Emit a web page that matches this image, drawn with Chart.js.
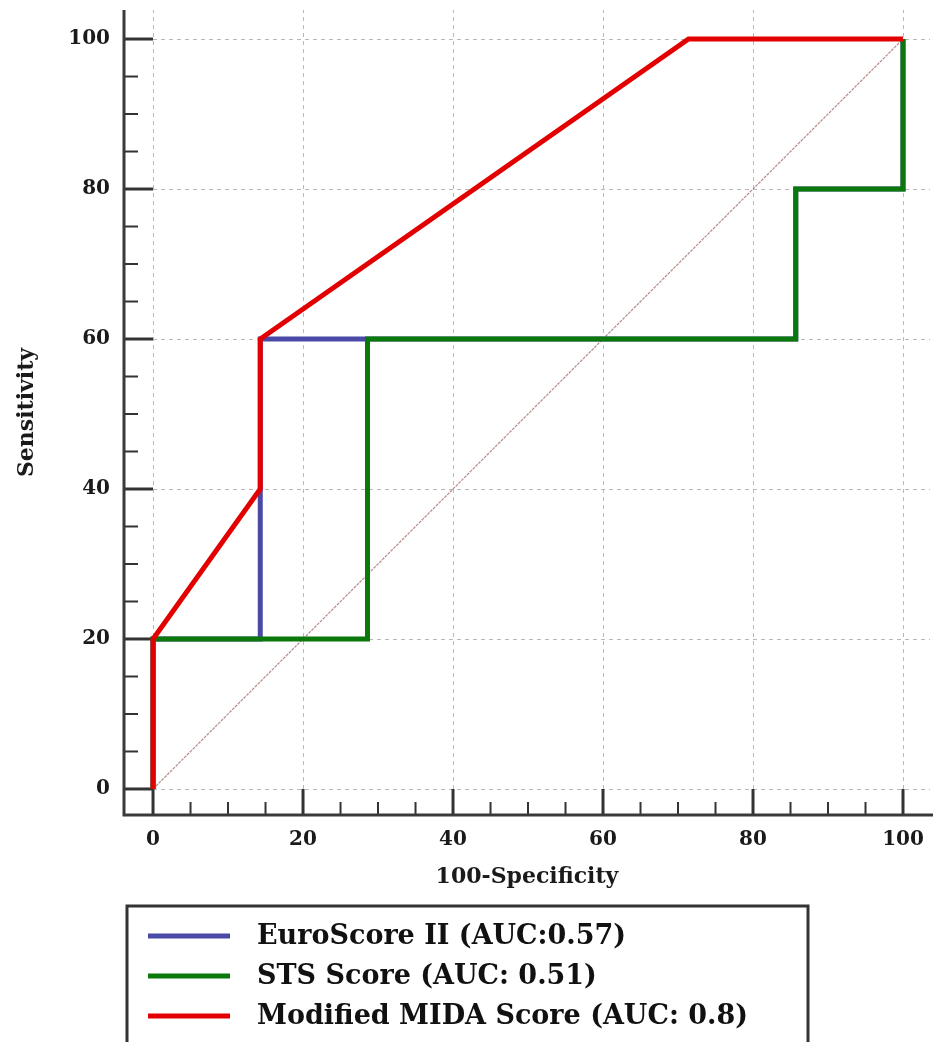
<!DOCTYPE html>
<html>
<head>
<meta charset="utf-8">
<script src="https://cdn.jsdelivr.net/npm/chart.js@4.4.1/dist/chart.umd.min.js"></script>
<style>
  html, body { margin: 0; padding: 0; background: #fff; }
  canvas { display: block; }
</style>
</head>
<body>
<canvas id="roc" width="933" height="1042"></canvas>
<script>
// ---------- DATA ----------
const seriesLabels = ['EuroScore II (AUC:0.57)', 'STS Score (AUC: 0.51)', 'Modified MIDA Score (AUC: 0.8)'];
const seriesColors = ['#4a4aa6', '#0b780b', '#e30000'];

const euroX = [0, 0, 14.3, 14.3, 28.6, 85.7, 85.7, 100, 100];
const euroY = [0, 20, 20, 60, 60, 60, 80, 80, 100];

const stsX = [0, 0, 28.6, 28.6, 85.7, 85.7, 100, 100];
const stsY = [0, 20, 20, 60, 60, 80, 80, 100];

const midaX = [0, 0, 14.3, 14.3, 71.4, 100];
const midaY = [0, 20, 40, 60, 100, 100];

const refX = [0, 100];
const refY = [0, 100];

const majorTicks = [0, 20, 40, 60, 80, 100];
const minorTicks = [5, 10, 15, 25, 30, 35, 45, 50, 55, 65, 70, 75, 85, 90, 95];

const xTitle = '100-Specificity';
const yTitle = 'Sensitivity';

// ---------- HELPERS ----------
function toPoints(xs, ys) {
    return xs.map((v, i) => ({ x: v, y: ys[i] }));
}

const serif = '"DejaVu Serif", serif';

// ---------- AXES / GRID PLUGIN ----------
const rocAxes = {
    id: 'rocAxes',
    beforeDatasetsDraw(chart) {
        const { ctx, chartArea: a, scales: { x, y } } = chart;
        const x0 = x.getPixelForValue(0);
        const y0 = y.getPixelForValue(0);
        ctx.save();

        // dashed grid from 0 outwards
        ctx.strokeStyle = '#b8b8b8';
        ctx.lineWidth = 1;
        ctx.setLineDash([4, 4]);
        majorTicks.forEach(v => {
            const py = Math.round(y.getPixelForValue(v)) + 0.5;
            ctx.beginPath(); ctx.moveTo(x0, py); ctx.lineTo(a.right, py); ctx.stroke();
            const px = Math.round(x.getPixelForValue(v)) + 0.5;
            ctx.beginPath(); ctx.moveTo(px, y0); ctx.lineTo(px, a.top); ctx.stroke();
        });
        ctx.setLineDash([]);

        // tick marks pointing inwards
        ctx.strokeStyle = '#333';
        ctx.lineWidth = 3;
        majorTicks.forEach(v => {
            const py = y.getPixelForValue(v);
            ctx.beginPath(); ctx.moveTo(a.left, py); ctx.lineTo(x0, py); ctx.stroke();
            const px = x.getPixelForValue(v);
            ctx.beginPath(); ctx.moveTo(px, a.bottom); ctx.lineTo(px, y0); ctx.stroke();
        });
        ctx.lineWidth = 2;
        minorTicks.forEach(v => {
            const py = y.getPixelForValue(v);
            ctx.beginPath(); ctx.moveTo(a.left, py); ctx.lineTo(a.left + 14, py); ctx.stroke();
            const px = x.getPixelForValue(v);
            ctx.beginPath(); ctx.moveTo(px, a.bottom); ctx.lineTo(px, a.bottom - 13); ctx.stroke();
        });

        // axis lines
        ctx.strokeStyle = '#3a3a3a';
        ctx.lineWidth = 3;
        ctx.beginPath();
        ctx.moveTo(a.left, a.top);
        ctx.lineTo(a.left, a.bottom);
        ctx.lineTo(a.right + 3, a.bottom);
        ctx.stroke();

        ctx.restore();
    }
};

// ---------- BOXED LEGEND ----------
const boxedLegend = {
    id: 'boxedLegend',
    afterDraw(chart) {
        const { ctx } = chart;
        ctx.save();
        ctx.strokeStyle = '#333';
        ctx.lineWidth = 3;
        ctx.strokeRect(127, 906, 681, 160);

        ctx.font = 'bold 27px ' + serif;
        ctx.textBaseline = 'middle';
        seriesLabels.forEach((label, i) => {
            const rowY = 936 + i * 40;
            ctx.fillStyle = seriesColors[i];
            ctx.fillRect(148, rowY - 2.5, 82, 5);
            ctx.fillStyle = '#111';
            ctx.fillText(label, 257, rowY + 1);
        });
        ctx.restore();
    }
};

// ---------- CHART ----------
const ctx = document.getElementById('roc').getContext('2d');

const rocChart = new Chart(ctx, {
    type: 'scatter',
    data: {
        datasets: [
            {
                label: 'Reference',
                data: toPoints(refX, refY),
                borderColor: '#b88a8a',
                borderWidth: 1.2,
                borderDash: [3, 1],
                order: 4
            },
            {
                label: seriesLabels[0],
                data: toPoints(euroX, euroY),
                borderColor: seriesColors[0],
                borderWidth: 5,
                order: 3
            },
            {
                label: seriesLabels[1],
                data: toPoints(stsX, stsY),
                borderColor: seriesColors[1],
                borderWidth: 5,
                order: 2
            },
            {
                label: seriesLabels[2],
                data: toPoints(midaX, midaY),
                borderColor: seriesColors[2],
                borderWidth: 5,
                order: 1
            }
        ]
    },
    options: {
        responsive: false,
        animation: false,
        datasets: {
            scatter: {
                showLine: true,
                pointRadius: 0,
                pointHoverRadius: 0,
                tension: 0,
                borderJoinStyle: 'miter',
                borderCapStyle: 'butt',
                fill: false
            }
        },
        layout: { padding: { left: 0, top: 10, right: 3, bottom: 147 } },
        plugins: {
            legend: { display: false },
            tooltip: { enabled: false }
        },
        scales: {
            x: {
                type: 'linear',
                min: -3.87,
                max: 103.6,
                afterBuildTicks: scale => { scale.ticks = majorTicks.map(v => ({ value: v })); },
                afterFit: scale => {
                    scale.height = 80;
                    scale.paddingLeft = 0;
                    scale.paddingRight = 0;
                },
                grid: { display: false, drawTicks: false },
                border: { display: false },
                ticks: {
                    padding: 13,
                    color: '#1a1a1a',
                    font: { family: serif, size: 20, weight: 'bold' }
                },
                title: {
                    display: true,
                    text: xTitle,
                    color: '#1a1a1a',
                    padding: { top: 0, bottom: 5 },
                    font: { family: serif, size: 22, weight: 'bold' }
                }
            },
            y: {
                type: 'linear',
                min: -3.47,
                max: 103.87,
                afterBuildTicks: scale => { scale.ticks = majorTicks.map(v => ({ value: v })); },
                afterFit: scale => {
                    scale.width = 124;
                    scale.paddingTop = 0;
                    scale.paddingBottom = 0;
                },
                grid: { display: false, drawTicks: false },
                border: { display: false },
                ticks: {
                    padding: 14,
                    color: '#1a1a1a',
                    font: { family: serif, size: 20, weight: 'bold' }
                },
                title: {
                    display: true,
                    text: yTitle,
                    color: '#1a1a1a',
                    padding: { top: 14, bottom: 0 },
                    font: { family: serif, size: 22, weight: 'bold' }
                }
            }
        }
    },
    plugins: [rocAxes, boxedLegend]
});
</script>
</body>
</html>
